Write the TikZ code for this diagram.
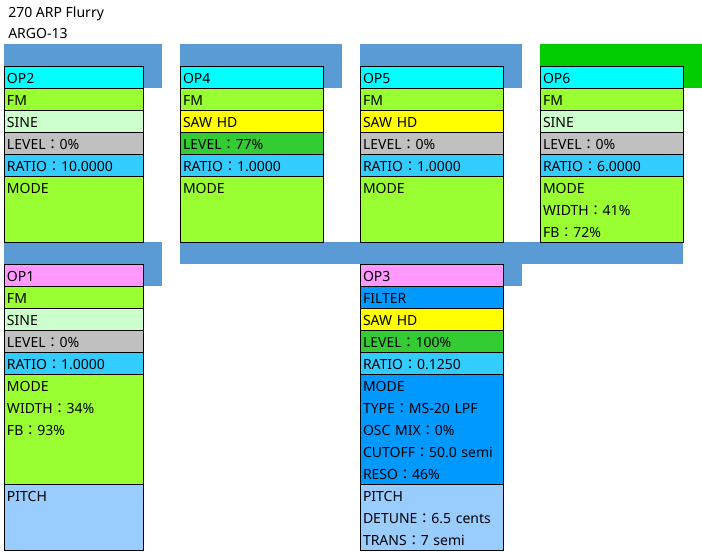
\documentclass[tikz,border=0pt]{standalone}
\usepackage{fontspec}
\setmainfont{Noto Sans}
\newfontfamily\cjkfont{Noto Sans CJK JP}
\usetikzlibrary{positioning, backgrounds}

\definecolor{hdcyan}{HTML}{00FFFF}
\definecolor{hdpink}{HTML}{FF99FF}
\definecolor{fmgreen}{HTML}{99FF33}
\definecolor{sinegreen}{HTML}{CCFFCC}
\definecolor{levelgray}{HTML}{C0C0C0}
\definecolor{levelgreen}{HTML}{33CC33}
\definecolor{ratioblue}{HTML}{33CCFF}
\definecolor{sawyellow}{HTML}{FFFF00}
\definecolor{filterblue}{HTML}{0099FF}
\definecolor{pitchblue}{HTML}{99CCFF}
\definecolor{bandblue}{HTML}{5B9BD5}
\definecolor{bandgreen}{HTML}{00CC00}

% full-width colon between a parameter and its value
\newcommand{\pcol}{{\cjkfont ：}}

\tikzset{
  cell/.style={draw, line width=0.75pt, outer sep=0pt, anchor=north west, inner xsep=2.25pt, inner ysep=0pt,
    text width=102.75pt, align=left, minimum height=16.5pt, text height=9.75pt, text depth=0pt},
  narrow/.style={text width=99.75pt},
  tall3/.style={minimum height=49.5pt, text depth=33pt},
  tall5/.style={minimum height=82.5pt, text depth=66pt},
  band/.style={fill=bandblue},
}

\begin{document}
\begin{tikzpicture}[x=0.75pt, y=-0.75pt, font=\fontsize{10.5}{16.5}\selectfont, node distance=0pt]
    \useasboundingbox (0,0) rectangle (702,551);

    \node[anchor=base west, inner sep=0pt] (patch) at (8,17.5) {270 ARP Flurry};
    \node[anchor=base west, inner sep=0pt] (algo) at (8,38.5) {ARGO-13};

    % OP2
    \node[cell, narrow, fill=hdcyan] (op2) at (4,66) {OP2};
    \node[cell, narrow, fill=fmgreen, below=of op2] (op2fm) {FM};
    \node[cell, narrow, fill=sinegreen, below=of op2fm] (op2wave) {SINE};
    \node[cell, narrow, fill=levelgray, below=of op2wave] (op2level) {LEVEL\pcol 0\%};
    \node[cell, narrow, fill=ratioblue, below=of op2level] (op2ratio) {RATIO\pcol 10.0000};
    \node[cell, narrow, tall3, fill=fmgreen, below=of op2ratio] (op2mode) {MODE};

    % OP4
    \node[cell, fill=hdcyan] (op4) at (180,66) {OP4};
    \node[cell, fill=fmgreen, below=of op4] (op4fm) {FM};
    \node[cell, fill=sawyellow, below=of op4fm] (op4wave) {SAW HD};
    \node[cell, fill=levelgreen, below=of op4wave] (op4level) {LEVEL\pcol 77\%};
    \node[cell, fill=ratioblue, below=of op4level] (op4ratio) {RATIO\pcol 1.0000};
    \node[cell, tall3, fill=fmgreen, below=of op4ratio] (op4mode) {MODE};

    % OP5
    \node[cell, fill=hdcyan] (op5) at (360,66) {OP5};
    \node[cell, fill=fmgreen, below=of op5] (op5fm) {FM};
    \node[cell, fill=sawyellow, below=of op5fm] (op5wave) {SAW HD};
    \node[cell, fill=levelgray, below=of op5wave] (op5level) {LEVEL\pcol 0\%};
    \node[cell, fill=ratioblue, below=of op5level] (op5ratio) {RATIO\pcol 1.0000};
    \node[cell, tall3, fill=fmgreen, below=of op5ratio] (op5mode) {MODE};

    % OP6
    \node[cell, fill=hdcyan] (op6) at (540,66) {OP6};
    \node[cell, fill=fmgreen, below=of op6] (op6fm) {FM};
    \node[cell, fill=sinegreen, below=of op6fm] (op6wave) {SINE};
    \node[cell, fill=levelgray, below=of op6wave] (op6level) {LEVEL\pcol 0\%};
    \node[cell, fill=ratioblue, below=of op6level] (op6ratio) {RATIO\pcol 6.0000};
    \node[cell, tall3, fill=fmgreen, below=of op6ratio] (op6mode) {MODE\\WIDTH\pcol 41\%\\FB\pcol 72\%};

    % OP1 (carrier)
    \node[cell, narrow, fill=hdpink] (op1) at (4,264) {OP1};
    \node[cell, narrow, fill=fmgreen, below=of op1] (op1fm) {FM};
    \node[cell, narrow, fill=sinegreen, below=of op1fm] (op1wave) {SINE};
    \node[cell, narrow, fill=levelgray, below=of op1wave] (op1level) {LEVEL\pcol 0\%};
    \node[cell, narrow, fill=ratioblue, below=of op1level] (op1ratio) {RATIO\pcol 1.0000};
    \node[cell, narrow, tall5, fill=fmgreen, below=of op1ratio] (op1mode) {MODE\\WIDTH\pcol 34\%\\FB\pcol 93\%};
    \node[cell, narrow, tall3, fill=pitchblue, below=of op1mode] (op1pitch) {PITCH};

    % OP3 (carrier)
    \node[cell, fill=hdpink] (op3) at (360,264) {OP3};
    \node[cell, fill=filterblue, below=of op3] (op3fm) {FILTER};
    \node[cell, fill=sawyellow, below=of op3fm] (op3wave) {SAW HD};
    \node[cell, fill=levelgreen, below=of op3wave] (op3level) {LEVEL\pcol 100\%};
    \node[cell, fill=ratioblue, below=of op3level] (op3ratio) {RATIO\pcol 0.1250};
    \node[cell, tall5, fill=filterblue, below=of op3ratio] (op3mode) {MODE\\TYPE\pcol MS-20 LPF\\OSC MIX\pcol 0\%\\CUTOFF\pcol 50.0 semi\\RESO\pcol 46\%};
    \node[cell, tall3, fill=pitchblue, below=of op3mode] (op3pitch) {PITCH\\DETUNE\pcol 6.5 cents\\TRANS\pcol 7 semi};

    % routing bands behind the boxes
    \begin{scope}[on background layer]
        \fill[band] (op2.north west) ++(0,-22) rectangle ++(158,44);
        \fill[band] (op4.north west) ++(0,-22) rectangle ++(162,44);
        \fill[band] (op5.north west) ++(0,-22) rectangle ++(162,44);
        \fill[bandgreen] (op6.north west) ++(0,-22) rectangle ++(162,44);
        \fill[band] (op1.north west) ++(0,-22) rectangle ++(158,44);
        \fill[band] (op4mode.south west) rectangle (op6mode.south east |- op3.north);
        \fill[band] (op3.north west) ++(0,-22) rectangle ++(162,44);
    \end{scope}
\end{tikzpicture}
\end{document}
